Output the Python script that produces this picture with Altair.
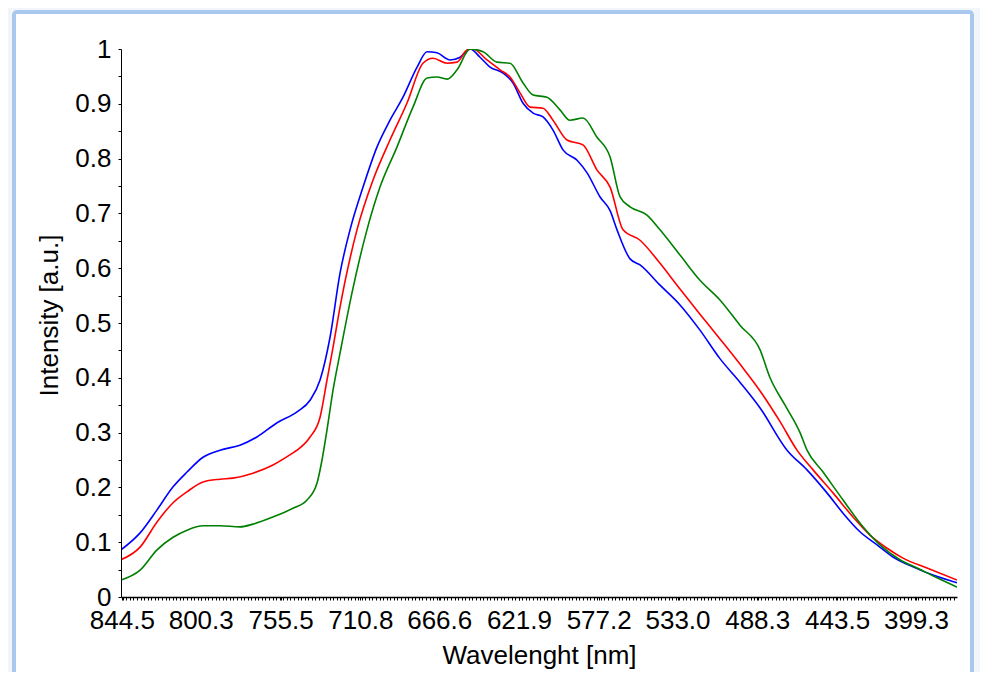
import altair as alt
import pandas as pd

# ---- data ----
blue_nm = [845.0, 834.3, 824.8, 815.8, 808.0, 799.0, 789.5, 778.3, 768.8, 757.5, 746.3, 739.0,
           733.4, 727.8, 722.2, 716.6, 709.3, 701.5, 694.2, 686.9, 679.0, 673.4, 667.8, 660.5,
           654.9, 649.3, 643.7, 638.1, 630.8, 625.2, 619.6, 613.9, 608.4, 602.8, 597.2, 589.3,
           583.7, 576.4, 570.8, 566.9, 559.6, 554.0, 542.8, 531.6, 520.4, 509.2, 498.0, 486.7,
           471.6, 460.4, 449.2, 440.2, 430.7, 421.1, 412.2, 401.0, 389.8, 376.3]
blue_val = [0.086, 0.117, 0.159, 0.201, 0.228, 0.255, 0.268, 0.277, 0.292, 0.318, 0.338, 0.359,
            0.396, 0.474, 0.591, 0.670, 0.748, 0.821, 0.870, 0.912, 0.967, 0.995, 0.993, 0.980,
            0.985, 1.000, 0.985, 0.967, 0.956, 0.938, 0.901, 0.883, 0.876, 0.852, 0.816, 0.797,
            0.774, 0.730, 0.705, 0.670, 0.617, 0.606, 0.569, 0.533, 0.487, 0.435, 0.392, 0.345,
            0.268, 0.232, 0.190, 0.153, 0.119, 0.095, 0.073, 0.055, 0.040, 0.026]

red_nm = [845.0, 834.3, 824.8, 815.8, 808.0, 799.0, 789.5, 782.2, 771.0, 759.8, 748.6, 746.3,
          739.0, 733.4, 729.5, 726.1, 722.2, 712.7, 703.7, 694.2, 684.7, 675.7, 670.1, 662.2,
          656.6, 651.0, 647.7, 639.8, 632.5, 626.9, 621.3, 615.7, 608.4, 602.8, 595.0, 586.0,
          578.1, 570.8, 563.5, 554.0, 542.8, 531.6, 520.4, 509.2, 498.0, 486.7, 475.5, 466.0,
          457.0, 445.8, 434.6, 425.1, 415.5, 406.6, 393.1, 376.3]
red_val = [0.068, 0.091, 0.137, 0.172, 0.192, 0.210, 0.215, 0.217, 0.226, 0.241, 0.263, 0.268,
           0.292, 0.328, 0.396, 0.456, 0.529, 0.670, 0.761, 0.834, 0.901, 0.974, 0.983, 0.974,
           0.976, 0.998, 1.000, 0.980, 0.962, 0.949, 0.920, 0.894, 0.892, 0.870, 0.834, 0.825,
           0.779, 0.748, 0.670, 0.651, 0.609, 0.562, 0.516, 0.471, 0.425, 0.376, 0.320, 0.268,
           0.232, 0.190, 0.146, 0.113, 0.089, 0.071, 0.053, 0.031]

green_nm = [845.0, 834.3, 824.8, 815.8, 808.0, 799.0, 789.5, 778.3, 771.0, 759.8, 748.6, 740.7,
            735.1, 732.3, 729.5, 726.1, 722.2, 715.5, 707.1, 699.8, 690.3, 681.3, 673.4,
            667.8, 662.2, 656.6, 649.3, 642.0, 634.2, 626.9, 619.6, 613.9, 606.2, 598.9, 593.3,
            586.0, 578.1, 570.8, 565.2, 559.6, 550.1, 542.8, 531.6, 520.4, 509.2, 498.0, 486.7,
            481.1, 472.7, 464.3, 460.4, 451.4, 440.2, 429.0, 419.5, 408.3, 398.7, 387.5, 376.3]
green_val = [0.031, 0.049, 0.086, 0.109, 0.122, 0.130, 0.130, 0.128, 0.133, 0.146, 0.162, 0.177,
             0.208, 0.250, 0.305, 0.378, 0.445, 0.555, 0.670, 0.748, 0.821, 0.894, 0.947,
             0.949, 0.945, 0.962, 1.000, 0.995, 0.976, 0.974, 0.938, 0.916, 0.912, 0.889, 0.870,
             0.874, 0.839, 0.803, 0.730, 0.712, 0.697, 0.670, 0.624, 0.578, 0.542, 0.496, 0.451,
             0.400, 0.350, 0.300, 0.268, 0.228, 0.177, 0.128, 0.095, 0.068, 0.053, 0.035, 0.018]

series_names = ["Series 1", "Series 2", "Series 3"]
series_colors = ["#0000ff", "#ff0000", "#008000"]

x_tick_labels = [844.5, 800.3, 755.5, 710.8, 666.6, 621.9, 577.2, 533.0, 488.3, 443.5, 399.3]
y_tick_values = [0, 0.05, 0.1, 0.15, 0.2, 0.25, 0.3, 0.35, 0.4, 0.45, 0.5,
                 0.55, 0.6, 0.65, 0.7, 0.75, 0.8, 0.85, 0.9, 0.95, 1.0]

rows = []
for name, xs, ys in zip(series_names, [blue_nm, red_nm, green_nm], [blue_val, red_val, green_val]):
    for i, (a, b) in enumerate(zip(xs, ys)):
        rows.append({"series": name, "nm": a, "intensity": b, "idx": i})
df = pd.DataFrame(rows)

font = "Liberation Sans"
xscale = alt.Scale(domain=[376.3, 845.0], reverse=True, nice=False, zero=False)

frame = alt.Chart(pd.DataFrame({"a": [0]})).mark_rect(
    fill="white", stroke="#a9c8ee", strokeWidth=4, cornerRadius=3
).encode(
    x=alt.value(-107), x2=alt.value(851), y=alt.value(-37), y2=alt.value(700)
)

lines = alt.Chart(df).mark_line(strokeWidth=1.6, clip=True, interpolate="monotone").encode(
    x=alt.X("nm:Q", scale=xscale,
            axis=alt.Axis(values=x_tick_labels, format=".1f", title="Wavelenght [nm]",
                          tickSize=3, labelPadding=7, labelFlush=False, labelOverlap=False,
                          titleY=45, titleBaseline="top", domainWidth=1.5, zindex=2)),
    y=alt.Y("intensity:Q", scale=alt.Scale(domain=[0, 1], nice=False),
            axis=alt.Axis(values=y_tick_values, tickSize=3, labelPadding=7,
                          labelOverlap=False, labelFlush=False, zindex=2,
                          labelExpr="round(datum.value*20) % 2 == 0 ? format(datum.value, '~g') : ''",
                          title="Intensity [a.u.]", titleX=-59, titleY=266,
                          titleAngle=270, titleBaseline="bottom")),
    color=alt.Color("series:N", scale=alt.Scale(domain=series_names, range=series_colors),
                    legend=None),
    order="idx:Q",
)

minor = alt.Chart(df).mark_point(opacity=0).encode(
    x=alt.X("nm:Q", scale=xscale,
            axis=alt.Axis(orient="bottom", labels=False, title=None, domain=False,
                          tickCount=230, tickSize=3, grid=False, zindex=2)),
    y=alt.value(0),
)

chart = alt.layer(frame, lines, minor).resolve_axis(x="independent").properties(
    width=836, height=548,
    autosize=alt.AutoSizeParams(type="none"),
    padding={"left": 113, "top": 41, "right": 23, "bottom": 75},
    background="#f2f5f9",
).configure_view(stroke=None).configure_axis(
    labelFont=font, titleFont=font, labelFontSize=26, titleFontSize=26,
    titleFontWeight="normal", labelColor="black", titleColor="black",
    tickColor="black", domainColor="black", grid=False,
)

chart.save("out.html", embed_options={"renderer": "svg", "actions": False})
